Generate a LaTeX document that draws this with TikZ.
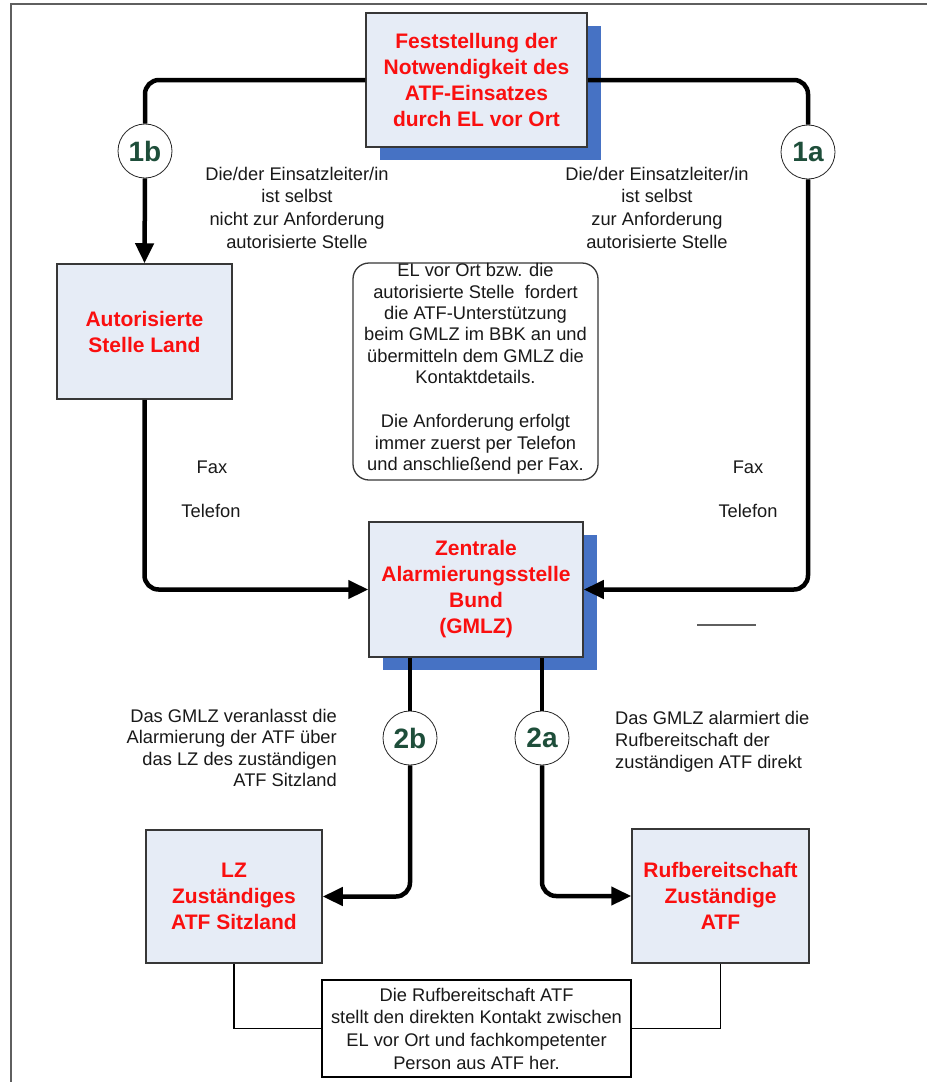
\documentclass[tikz,border=0pt]{standalone}
\usepackage{fontspec}
\setmainfont{Liberation Sans}
\usetikzlibrary{arrows.meta,shadows}
\definecolor{boxfill}{RGB}{230,236,246}
\definecolor{shadowblue}{RGB}{70,114,196}
\definecolor{redtext}{RGB}{250,15,15}
\definecolor{numgreen}{RGB}{30,78,58}
\definecolor{framegray}{RGB}{95,95,95}
\definecolor{boxborder}{RGB}{55,55,55}
\definecolor{txt}{RGB}{25,25,25}
\begin{document}
\begin{tikzpicture}[x=1pt,y=-1pt,
  mainbox/.style={draw=boxborder,line width=1.5pt,fill=boxfill,inner sep=0pt,align=center,text=redtext,font=\fontsize{21}{26}\selectfont\bfseries},
  bshadow/.style={drop shadow={shadow xshift=14pt,shadow yshift=-13pt,fill=shadowblue,opacity=1}},
  flow/.style={line width=4.5pt,rounded corners=14pt},
  tip/.style={-{Triangle[length=20pt,width=18pt]}},
  numc/.style={circle,draw=black!85,line width=0.8pt,fill=white,minimum size=54pt,inner sep=0pt,text=numgreen,font=\fontsize{28}{30}\selectfont\bfseries},
  lbl/.style={inner sep=0pt,text=txt,font=\fontsize{18.3}{22.7}\selectfont},
  thinl/.style={line width=1.3pt}
]
\useasboundingbox (0,0) rectangle (927,1082);
\fill[white] (0,0) rectangle (927,1082);
\coordinate (fa) at (11,1082);
\coordinate (fb) at (11,4);
\coordinate (fc) at (927,4);
\draw[framegray,line width=2pt] (fa) -- (fb) -- (fc);

% boxes
\node[mainbox,bshadow,minimum width=221pt,minimum height=134pt] (top) at (476.5,80) {Feststellung der\\Notwendigkeit des\\ATF-Einsatzes\\durch EL vor Ort};
\node[mainbox,minimum width=175pt,minimum height=135pt] (auto) at (144.5,331.5) {Autorisierte\\Stelle Land};
\node[mainbox,bshadow,minimum width=214pt,minimum height=135pt] (gmlz) at (476,589.5) {Zentrale\\Alarmierungsstelle\\Bund\\(GMLZ)};
\node[mainbox,minimum width=176pt,minimum height=133pt] (lz) at (234,896.5) {LZ\\Zuständiges\\ATF Sitzland};
\node[mainbox,minimum width=177pt,minimum height=134pt] (ruf) at (720.5,896) {Rufbereitschaft\\Zuständige\\ATF};
\node[draw=black,line width=1.3pt,fill=white,minimum width=309pt,minimum height=97pt,inner sep=0pt,align=center,text=txt,font=\fontsize{18.3}{22.7}\selectfont] (note) at (476.5,1028.5) {Die Rufbereitschaft ATF\\stellt den direkten Kontakt zwischen\\EL vor Ort und fachkompetenter\\Person aus ATF her.};

% request box
\node[draw=boxborder,line width=1.3pt,rounded corners=16pt,fill=white,minimum width=245pt,minimum height=217pt] (req) at (475.5,371.5) {};
\node[lbl,anchor=north,align=center,font=\fontsize{18.3}{21.3}\selectfont] (reqtext) at (475.5,263.5) {EL vor Ort bzw. die\\autorisierte Stelle\ \ fordert\\die ATF-Unterstützung\\beim GMLZ im BBK an und\\übermitteln dem GMLZ die\\Kontaktdetails.\\[23pt]Die Anforderung erfolgt\\immer zuerst per Telefon\\und anschließend per Fax.};

% step circles
\node[numc] (c1b) at (145,151) {1b};
\node[numc] (c1a) at (808,152) {1a};
\node[numc] (c2b) at (410,738) {2b};
\node[numc] (c2a) at (542,738) {2a};

% connectors
\draw[flow] (top.west) -| (c1b.north);
\draw[flow,tip] (c1b.south) -- (auto.north);
\draw[flow] (top.east) -| (c1a.north);
\draw[flow,tip] (c1a.south) |- (gmlz.east);
\draw[flow,tip] (auto.south) |- (gmlz.west);
\draw[flow] (gmlz.south -| c2b) -- (c2b.north);
\draw[flow,tip] (c2b.south) |- (lz.east);
\draw[flow] (gmlz.south -| c2a) -- (c2a.north);
\draw[flow,tip] (c2a.south) |- (ruf.west);
\draw[thinl] (lz.south) |- (note.west);
\draw[thinl] (ruf.south) |- (note.east);

% labels
\node[lbl,anchor=north,align=center] (t1b) at (297,166.8) {Die/der Einsatzleiter/in\\ist selbst\\nicht zur Anforderung\\autorisierte Stelle};
\node[lbl,anchor=north,align=center] (t1a) at (657,166.8) {Die/der Einsatzleiter/in\\ist selbst\\zur Anforderung\\autorisierte Stelle};
\node[lbl,anchor=base] (fax1) at (212,473) {Fax};
\node[lbl,anchor=base] (tel1) at (211,517) {Telefon};
\node[lbl,anchor=base] (fax2) at (748,473) {Fax};
\node[lbl,anchor=base] (tel2) at (748,517) {Telefon};
\node[lbl,anchor=north east,align=right,font=\fontsize{18.3}{21.5}\selectfont] (t2b) at (337,708.8) {Das GMLZ veranlasst die\\Alarmierung der ATF über\\das LZ des zuständigen\\ATF Sitzland};
\node[lbl,anchor=north west,align=left,font=\fontsize{18.3}{22}\selectfont] (t2a) at (615,710.8) {Das GMLZ alarmiert die\\Rufbereitschaft der\\zuständigen ATF direkt};

% small stray line
\coordinate (g1) at (697,625);
\coordinate (g2) at (756,625);
\draw[framegray,line width=2pt] (g1) -- (g2);
\end{tikzpicture}
\end{document}
